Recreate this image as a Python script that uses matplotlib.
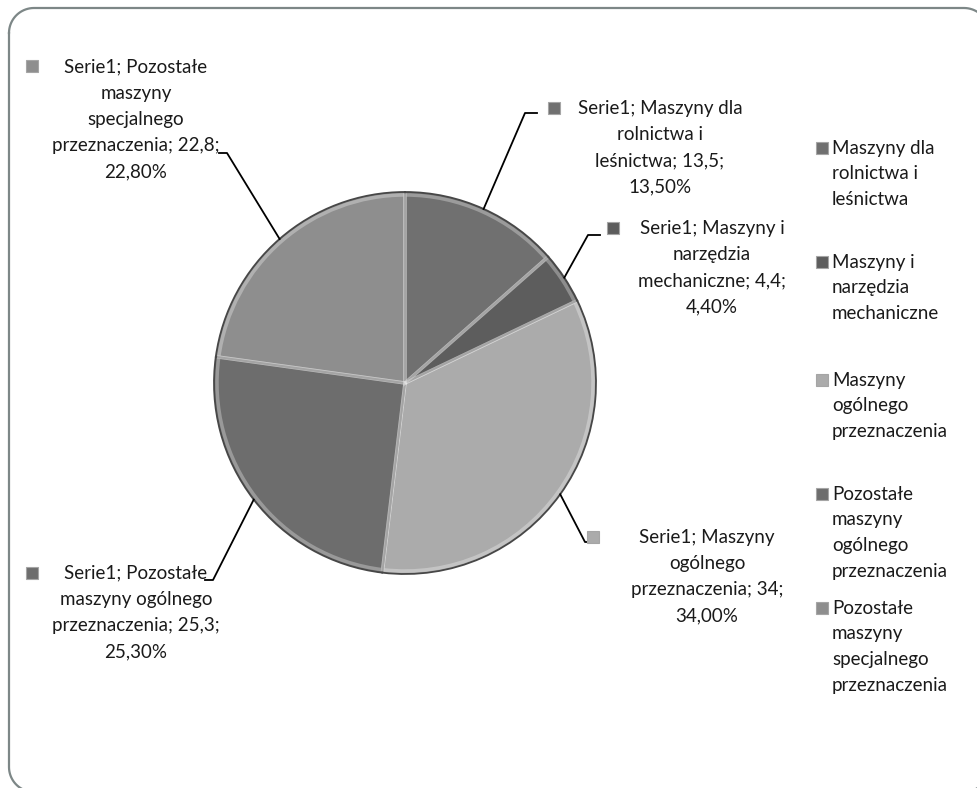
import numpy as np
import matplotlib.pyplot as plt
from matplotlib.patches import Rectangle

## ------------------------------------------------- DATA -------------------------------------------------
categories = ["Maszyny dla rolnictwa i leśnictwa",
              "Maszyny i narzędzia mechaniczne",
              "Maszyny ogólnego przeznaczenia",
              "Pozostałe maszyny ogólnego przeznaczenia",
              "Pozostałe maszyny specjalnego przeznaczenia"]
values = [13.5, 4.4, 34, 25.3, 22.8]
series_name = "Serie1"

# how each name is broken over lines in the data labels and in the legend
label_wrap = [["Maszyny dla", "rolnictwa i", "leśnictwa"],
              ["Maszyny i", "narzędzia", "mechaniczne"],
              ["Maszyny", "ogólnego", "przeznaczenia"],
              ["Pozostałe", "maszyny ogólnego", "przeznaczenia"],
              ["Pozostałe", "maszyny", "specjalnego", "przeznaczenia"]]
legend_wrap = [["Maszyny dla", "rolnictwa i", "leśnictwa"],
               ["Maszyny i", "narzędzia", "mechaniczne"],
               ["Maszyny", "ogólnego", "przeznaczenia"],
               ["Pozostałe", "maszyny", "ogólnego", "przeznaczenia"],
               ["Pozostałe", "maszyny", "specjalnego", "przeznaczenia"]]

colors = ["#707070", "#5d5d5d", "#ababab", "#6d6d6d", "#8e8e8e"]

## ------------------------------------------------- LAYOUT (pixels) -------------------------------------------------
W, H = 977, 788
CENTER = (405, 383)
RADIUS = 191
FONT = "Lato"
FS = 13.5
PITCH = 26.3

# label block: text centre x, first line y, marker position, leader elbow, leader end
label_pos = [
    dict(x=660, y=108, mk=(554, 108), elbow=(525, 113), end=(537, 113)),
    dict(x=712, y=228, mk=(613, 228), elbow=(588, 235), end=(600, 235)),
    dict(x=707, y=537, mk=(593, 537), elbow=(585, 542), end=(596, 542)),
    dict(x=136, y=573, mk=(32, 573), elbow=(213, 580), end=(205, 580)),
    dict(x=136, y=67, mk=(32, 66), elbow=(227, 153), end=(219, 153)),
]
legend_y = [148, 262, 380, 494, 608]


def Y(y):
    return H - y


def fmt(v):
    return f"{v:g}".replace(".", ",")


def draw_lines(ax, x, y0, lines, ha="center", size=FS, pitch=PITCH):
    for i, line in enumerate(lines):
        ax.text(x, Y(y0 + i * pitch), line, ha=ha, va="center", fontsize=size,
                family=[FONT, "DejaVu Sans"], color="#1a1a1a")


def marker(ax, x, y, color, s=12):
    ax.add_patch(Rectangle((x - s / 2, Y(y) - s / 2), s, s, facecolor=color,
                           edgecolor="#a5a5a5", linewidth=0.8, zorder=3))


def rounded_frame(x0, y0, x1, y1, r, n=20):
    # outline of a rounded rectangle, corners traced clockwise from top-left
    pts = []
    for cx, cy, a0 in [(x0 + r, y0 + r, 180), (x1 - r, y0 + r, 270),
                       (x1 - r, y1 - r, 0), (x0 + r, y1 - r, 90)]:
        a = np.deg2rad(np.linspace(a0, a0 + 90, n))
        pts += list(zip(cx + r * np.cos(a), cy + r * np.sin(a)))
    pts.append(pts[0])
    xs, ys = zip(*pts)
    return np.array(xs), np.array(ys)


fig = plt.figure(figsize=(W / 100, H / 100), dpi=100)
ax = fig.add_axes([0, 0, 1, 1])

wedges, _ = ax.pie(values, colors=colors, startangle=90, counterclock=False,
                   center=(CENTER[0], Y(CENTER[1])), radius=RADIUS,
                   wedgeprops=dict(edgecolor="#474747", linewidth=1.3))
# soft light rim inside each wedge
ax.pie(values, colors=colors, startangle=90, counterclock=False,
       center=(CENTER[0], Y(CENTER[1])), radius=RADIUS - 3,
       wedgeprops=dict(fill=False, edgecolor=(1, 1, 1, 0.3), linewidth=2.5))

total = sum(values)
for w, v, wrap, pos, c in zip(wedges, values, label_wrap, label_pos, colors):
    # leader line from the middle of the wedge's arc
    mid = np.deg2rad((w.theta1 + w.theta2) / 2)
    sx = CENTER[0] + RADIUS * np.cos(mid)
    sy = Y(CENTER[1]) + RADIUS * np.sin(mid)
    ax.plot([sx, pos["elbow"][0], pos["end"][0]],
            [sy, Y(pos["elbow"][1]), Y(pos["end"][1])], color="black", lw=1.3)

    lines = [f"{series_name}; {wrap[0]}"] + wrap[1:]
    lines[-1] = f"{lines[-1]}; {fmt(v)};"
    lines.append(f"{v / total * 100:.2f}".replace(".", ",") + "%")
    draw_lines(ax, pos["x"], pos["y"], lines)
    marker(ax, *pos["mk"], c)

# legend on the right
for wrap, y, c in zip(legend_wrap, legend_y, colors):
    marker(ax, 822, y, c)
    draw_lines(ax, 832, y, wrap, ha="left", pitch=25.7)

# rounded frame around the chart area (runs off the right and bottom edges)
fx, fy = rounded_frame(9, 8, 989, 792, 25)
ax.plot(fx, H - fy, color="#7d8787", lw=1.6)

ax.set_xlim(0, W)
ax.set_ylim(0, H)
ax.axis("off")

fig.savefig("out.png", dpi=100)
